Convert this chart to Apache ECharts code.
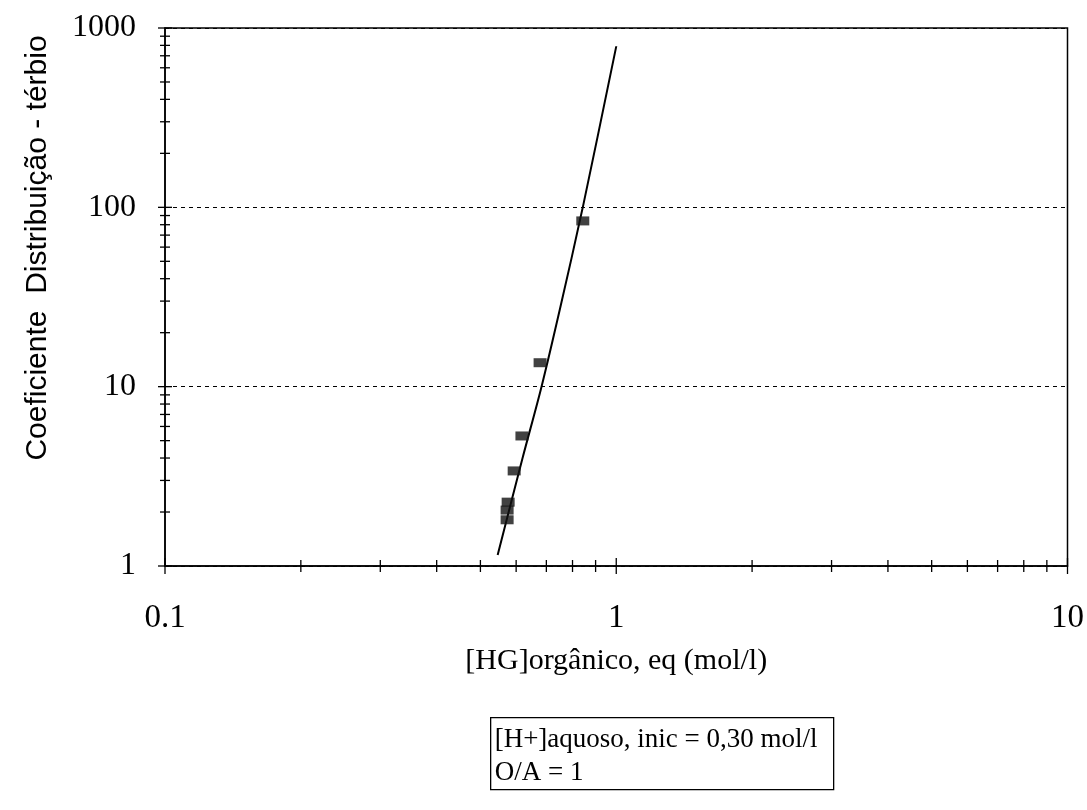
<!DOCTYPE html>
<html>
<head>
<meta charset="utf-8">
<script src="https://cdn.jsdelivr.net/npm/echarts@6/dist/echarts.min.js"></script>
<style>
html,body{margin:0;padding:0;background:#fff;}
#chart{width:1087px;height:810px;}
</style>
</head>
<body>
<div id="chart"></div>
<script>
// Measured points: [HG] organic (mol/l) vs distribution coefficient (terbium)
const hgOrg = [0.843, 0.678, 0.618, 0.594, 0.576, 0.573, 0.573];
const kdTb  = [84, 13.6, 5.31, 3.39, 2.27, 2.05, 1.81];
// Fitted line
const fitX = [0.546, 0.620, 0.683, 0.750, 0.843, 1.0];
const fitY = [1.15, 4.0, 10, 27, 100, 790];
// Axis ticks
const xMajorTicks = [0.1, 1, 10];
const xTickLabels = ['0.1', '1', '10'];
const xMinorTicks = [0.2, 0.3, 0.4, 0.5, 0.6, 0.7, 0.8, 0.9, 2, 3, 4, 5, 6, 7, 8, 9];
const yMajorTicks = [1, 10, 100, 1000];
const yTickLabels = ['1', '10', '100', '1000'];
const yMinorTicks = [2, 3, 4, 5, 6, 7, 8, 9, 20, 30, 40, 50, 60, 70, 80, 90, 200, 300, 400, 500, 600, 700, 800, 900];
const legendLines = ['[H+]aquoso, inic = 0,30 mol/l', 'O/A = 1'];

const serif = '"Liberation Serif", "Times New Roman", serif';
const sans = '"Liberation Sans", Arial, sans-serif';

function labelFor(values, labels, v) {
  for (let i = 0; i < values.length; i++) {
    if (Math.abs(Math.log10(v) - Math.log10(values[i])) < 1e-6) return labels[i];
  }
  return '';
}

function tickRenderer(vertical) {
  return function (params, api) {
    const p = api.coord([api.value(0), api.value(1)]);
    const len = api.value(2);
    const shape = vertical
      ? {x1: p[0], y1: p[1] - len, x2: p[0], y2: p[1] + len}
      : {x1: p[0] - len, y1: p[1], x2: p[0] + len, y2: p[1]};
    return {type: 'line', shape: shape, style: {stroke: '#000', lineWidth: 1.3}};
  };
}

const chart = echarts.init(document.getElementById('chart'), null, {renderer: 'canvas'});
chart.setOption({
  animation: false,
  backgroundColor: '#fff',
  grid: {left: 165, right: 17, top: 28, bottom: 244, show: true, borderColor: '#000', borderWidth: 1.5, backgroundColor: 'transparent'},
  xAxis: {
    type: 'log', logBase: 10, min: 0.1, max: 10,
    name: '[HG]orgânico, eq (mol/l)',
    nameLocation: 'middle', nameGap: 80,
    nameTextStyle: {fontFamily: serif, fontSize: 30, color: '#000'},
    axisLine: {show: true, lineStyle: {color: '#000', width: 1.5}},
    axisTick: {show: false},
    splitLine: {show: false},
    axisLabel: {
      margin: 36, fontFamily: serif, fontSize: 33, color: '#000',
      formatter: v => labelFor(xMajorTicks, xTickLabels, v)
    }
  },
  yAxis: {
    type: 'log', logBase: 10, min: 1, max: 1000,
    name: 'Coeficiente  Distribuição - térbio',
    nameLocation: 'middle', nameGap: 112,
    nameTextStyle: {fontFamily: sans, fontSize: 30, color: '#000', padding: [0, 0, 0, 98]},
    axisLine: {show: true, lineStyle: {color: '#000', width: 1.5}},
    axisTick: {show: false},
    splitLine: {show: true, lineStyle: {color: '#000', type: [4, 4], width: 1}},
    axisLabel: {
      margin: 29, fontFamily: serif, fontSize: 32, color: '#000',
      formatter: v => labelFor(yMajorTicks, yTickLabels, v)
    }
  },
  series: [
    {
      type: 'custom', name: 'xTicks', silent: true, clip: false,
      renderItem: tickRenderer(true),
      data: xMajorTicks.map(v => [v, 1, 8]).concat(xMinorTicks.map(v => [v, 1, 6])),
      z: 5
    },
    {
      type: 'custom', name: 'yTicks', silent: true, clip: false,
      renderItem: tickRenderer(false),
      data: yMajorTicks.map(v => [0.1, v, 7]).concat(yMinorTicks.map(v => [0.1, v, 5])),
      z: 5
    },
    {
      type: 'line', name: 'ajuste',
      data: fitX.map((x, i) => [x, fitY[i]]),
      showSymbol: false, symbol: 'none', smooth: 0.3,
      lineStyle: {color: '#000', width: 2},
      z: 3
    },
    {
      type: 'scatter', name: 'Tb',
      data: hgOrg.map((x, i) => [x, kdTb[i]]),
      symbol: 'rect', symbolSize: [13, 9],
      itemStyle: {color: '#111'},
      z: 4
    }
  ],
  graphic: [
    {
      type: 'group', left: 490, top: 717,
      children: [
        {type: 'rect', shape: {x: 0, y: 0, width: 343, height: 72}, style: {fill: '#fff', stroke: '#000', lineWidth: 1.3}},
        {type: 'text', x: 4, y: 9, style: {text: legendLines[0], font: '27px ' + serif, fill: '#000'}},
        {type: 'text', x: 4, y: 42, style: {text: legendLines[1], font: '27px ' + serif, fill: '#000'}}
      ]
    }
  ]
});
</script>
</body>
</html>
